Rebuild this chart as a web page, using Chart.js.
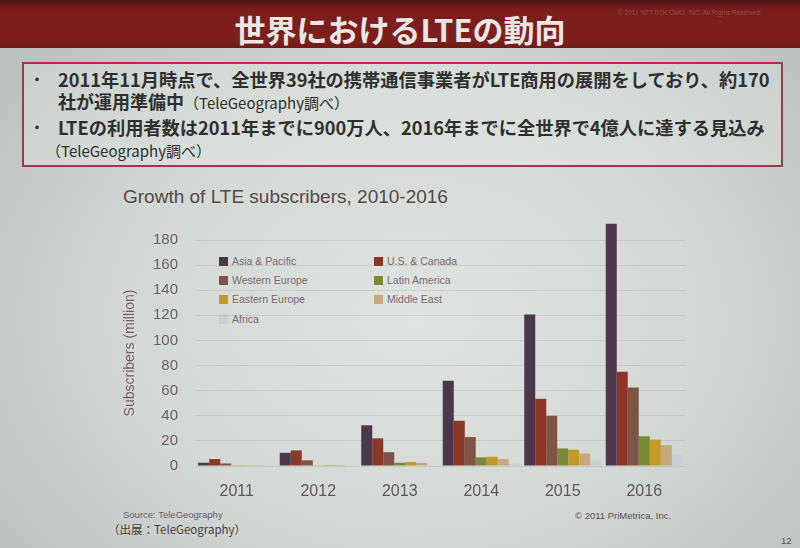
<!DOCTYPE html>
<html>
<head>
<meta charset="utf-8">
<script src="https://cdn.jsdelivr.net/npm/chart.js@4.4.0/dist/chart.umd.min.js"></script>
<style>
  html, body { margin: 0; padding: 0; }
  body {
    width: 800px; height: 548px; overflow: hidden; position: relative;
    background: radial-gradient(ellipse at 52% 58%, #e0e4e0 0%, #d2d8d4 50%, #b4bcb8 100%);
    font-family: "Noto Sans CJK JP", sans-serif;
  }
  .topbar {
    position: absolute; left: 0; top: 0; width: 800px; height: 48px;
    background: linear-gradient(#4a1414 0px, #7a1d1c 9px, #7e1f1e 40px, #6e1a1a 48px);
  }
  .headline {
    position: absolute; left: 0; width: 800px; top: 9px; text-align: center;
    color: #e9e6e4; font-weight: bold; font-size: 31px; line-height: 40px;
  }
  .rights {
    position: absolute; left: 618px; top: 9px; font-family: "Liberation Sans", sans-serif;
    font-size: 6.5px; color: rgba(255,255,255,0.22);
  }
  .box {
    position: absolute; left: 22px; top: 62px; width: 757px; height: 101px;
    border: 2px solid #a3344b; background: rgba(230,234,230,0.35);
  }
  .line {
    position: absolute; white-space: nowrap; color: #2f2f2f; font-weight: bold;
    font-size: 18px; line-height: 22px; transform-origin: 0 50%;
  }
  .line .sm { font-weight: normal; font-size: 15px; }
  .bullet { position: absolute; font-size: 14px; color: #333; font-weight: bold; }
  .ctitle {
    position: absolute; left: 123px; top: 186px; font-family: "Liberation Sans", sans-serif;
    font-size: 19px; color: #574848;
  }
  #legend { position: absolute; left: 0; top: 0; }
  .lg {
    position: absolute; font-family: "Liberation Sans", sans-serif; font-size: 10.5px;
    color: #7a6a70; line-height: 12px; white-space: nowrap;
  }
  .lg i { display: inline-block; width: 9px; height: 9px; margin-right: 4px; vertical-align: -1px; }
  .src { position: absolute; left: 123px; top: 509px; font-family: "Liberation Sans", sans-serif; font-size: 9.5px; color: #6b5870; }
  .src2 { position: absolute; left: 108px; top: 521px; font-size: 11.5px; color: #4c3d48; }
  .copy { position: absolute; left: 575px; top: 510px; font-family: "Liberation Sans", sans-serif; font-size: 9.5px; color: #5c4c50; }
  .page { position: absolute; left: 781px; top: 535px; font-family: "Liberation Sans", sans-serif; font-size: 9.5px; color: #555; }
  #chart { position: absolute; left: 110px; top: 213px; }
</style>
</head>
<body>
<div class="topbar"></div>
<div class="headline">世界におけるLTEの動向</div>
<div class="rights">© 2011 NTT DOCOMO, INC. All Rights Reserved.</div>

<div class="box"></div>
<div class="bullet" style="left:30px;top:68px;">・</div>
<div class="line" id="l1" style="left:58px;top:68px;">2011年11月時点で、全世界39社の携帯通信事業者がLTE商用の展開をしており、約170</div>
<div class="line" id="l2" style="left:58px;top:90px;">社が運用準備中<span class="sm">（TeleGeography調べ）</span></div>
<div class="bullet" style="left:30px;top:116px;">・</div>
<div class="line" id="l3" style="left:58px;top:116px;">LTEの利用者数は2011年までに900万人、2016年までに全世界で4億人に達する見込み</div>
<div class="line" style="left:46px;top:138px;"><span class="sm">（TeleGeography調べ）</span></div>

<div class="ctitle">Growth of LTE subscribers, 2010-2016</div>
<div id="legend"></div>
<canvas id="chart" width="580" height="296"></canvas>

<div class="src">Source: TeleGeography</div>
<div class="src2">（出展：TeleGeography）</div>
<div class="copy">© 2011 PriMetrica, Inc.</div>
<div class="page">12</div>

<script>
// 데이터 (million subscribers)
const years = ['2011', '2012', '2013', '2014', '2015', '2016'];
const regions = ['Asia & Pacific', 'U.S. & Canada', 'Western Europe', 'Latin America', 'Eastern Europe', 'Middle East', 'Africa'];
const asiaPacific   = [2.6, 10.5, 32.4, 67.8, 120.7, 193];
const usCanada      = [5.5, 12.4, 22, 36, 53.5, 75];
const westernEurope = [2, 4.5, 11, 23, 40, 62.5];
const latinAmerica  = [0.2, 0.5, 2.6, 6.9, 14, 23.7];
const easternEurope = [0.2, 0.8, 3.2, 7.4, 13, 21];
const middleEast    = [0.2, 0.8, 2.4, 5.5, 10, 16.6];
const africa        = [0.1, 0.2, 0.5, 2, 4.5, 9.2];
const yTicks = [0, 20, 40, 60, 80, 100, 120, 140, 160, 180];

const seriesValues = [asiaPacific, usCanada, westernEurope, latinAmerica, easternEurope, middleEast, africa];
const colors = ['#4c374c', '#8b3627', '#7f5443', '#7b8a36', '#c39a27', '#c9a77c', '#c7d0d4'];

// 본문 줄 폭 맞추기
function fitLine(id, w) {
    const el = document.getElementById(id);
    el.style.transform = 'scaleX(' + (w / el.offsetWidth) + ')';
}
fitLine('l1', 712);
fitLine('l3', 707);

// 범례 (2열)
const legendPos = [[219, 255], [374, 255], [219, 274], [374, 274], [219, 293], [374, 293], [219, 313]];
const legendEl = document.getElementById('legend');
regions.forEach((name, i) => {
    const d = document.createElement('div');
    d.className = 'lg';
    d.style.left = legendPos[i][0] + 'px';
    d.style.top = legendPos[i][1] + 'px';
    d.innerHTML = '<i style="background:' + colors[i] + '"></i>' + name;
    legendEl.appendChild(d);
});

const ctx = document.getElementById('chart').getContext('2d');
new Chart(ctx, {
    type: 'bar',
    data: {
        labels: years,
        datasets: regions.map((name, i) => ({
            label: name,
            data: seriesValues[i],
            backgroundColor: colors[i],
            borderWidth: 0,
            clip: false
        }))
    },
    options: {
        responsive: false,
        animation: false,
        layout: { padding: { top: 10, right: 5, left: 0, bottom: 0 } },
        plugins: {
            legend: { display: false },
            tooltip: { enabled: false }
        },
        datasets: {
            bar: { categoryPercentage: 0.945, barPercentage: 1.0 }
        },
        scales: {
            y: {
                min: 0,
                max: 180,
                afterFit: scale => { scale.width = 86; },
                afterBuildTicks: scale => { scale.ticks = yTicks.map(v => ({ value: v })); },
                border: { display: false },
                grid: { color: 'rgba(110,115,120,0.16)', lineWidth: 1, drawTicks: false },
                ticks: {
                    padding: 18,
                    color: '#6e5e68',
                    font: { family: 'Liberation Sans', size: 15 }
                },
                title: {
                    display: true,
                    text: 'Subscribers (million)',
                    color: '#7a5a6a',
                    padding: { top: 12, bottom: 0 },
                    font: { family: 'Liberation Sans', size: 14 }
                }
            },
            x: {
                afterFit: scale => { scale.height = 43; },
                border: { display: false },
                grid: { display: false },
                ticks: {
                    padding: 8,
                    color: '#62555d',
                    font: { family: 'Liberation Sans', size: 16 }
                }
            }
        }
    }
});
</script>
</body>
</html>
